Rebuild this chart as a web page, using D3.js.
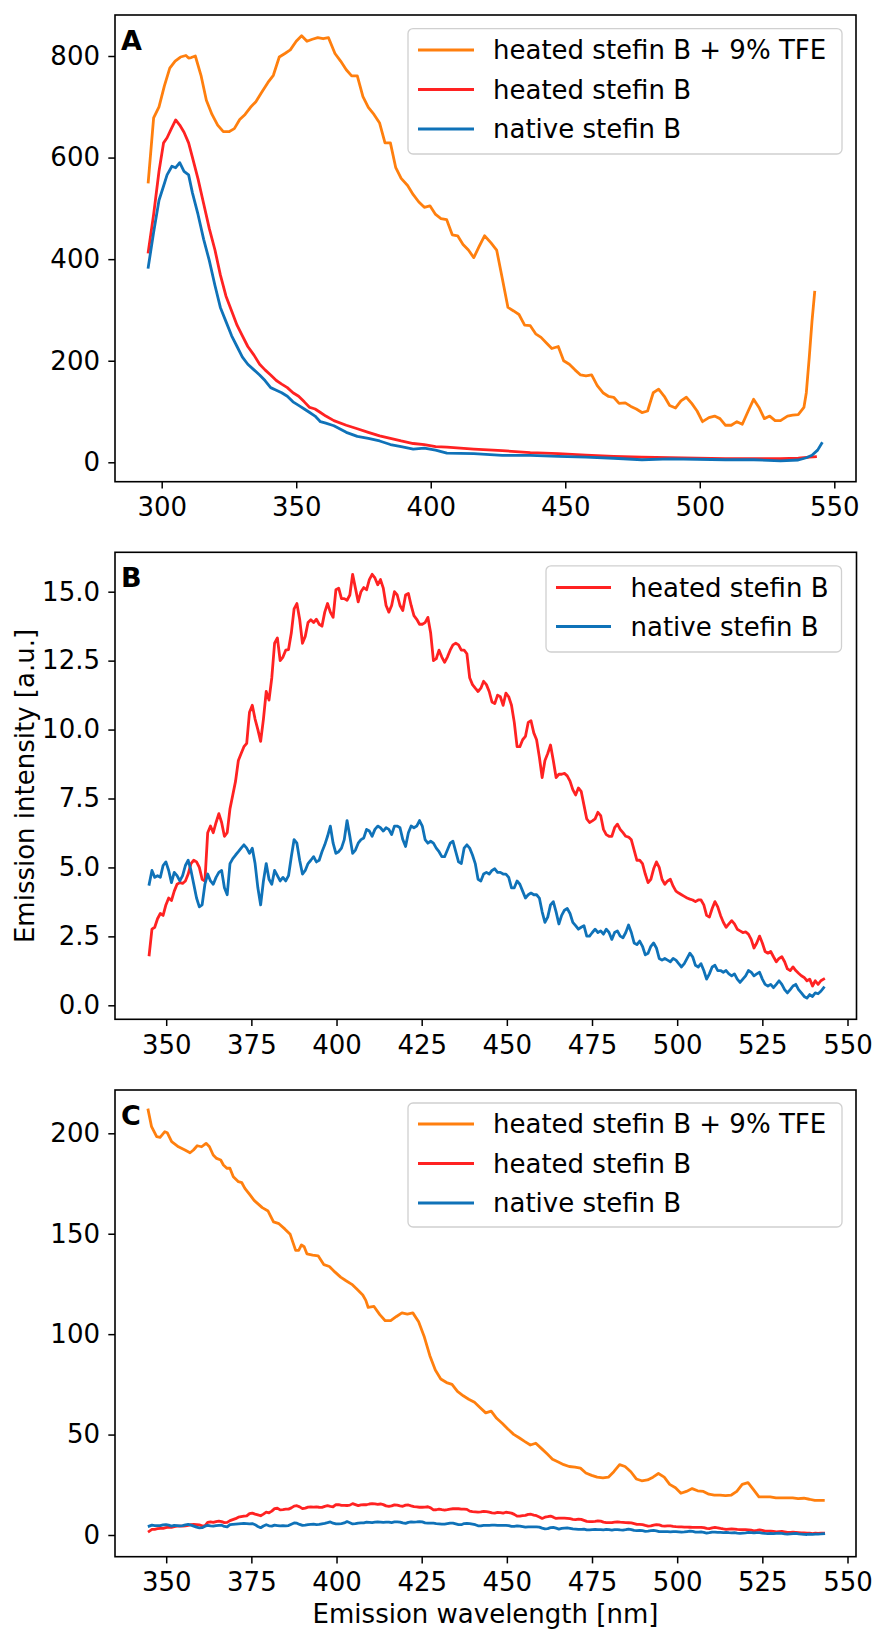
<!DOCTYPE html>
<html><head><meta charset="utf-8">
<script src="https://cdn.jsdelivr.net/npm/d3@7"></script>
<style>
body{margin:0;background:#fff;}
svg{display:block;font-family:"DejaVu Sans",sans-serif;}
</style></head>
<body>
<svg id="chart" width="875" height="1630"></svg>
<script>
// ---------- DATA ----------
const seriesNames = ["heated stefin B + 9% TFE", "heated stefin B", "native stefin B"];
const seriesColors = ["#ff7f0e", "#ff2222", "#0f72b8"];
const panelLabels = ["A", "B", "C"];

const xTicksA = [300, 350, 400, 450, 500, 550];
const yTicksA = [0, 200, 400, 600, 800];
const xTicksBC = [350, 375, 400, 425, 450, 475, 500, 525, 550];
const yTicksB = [0, 2.5, 5, 7.5, 10, 12.5, 15];
const yTicksC = [0, 50, 100, 150, 200];

// Panel A: heated + TFE
const aOrangeW = [295,297,299,301,303,305,306,307,309,310,311,312.5,314.6,316.6,318.7,320.8,322.9,325,327,329,331,333,335,337,339.5,341.5,343.7,345.8,347.8,350,352,354,356,358,360,362,364.4,366.5,368.6,370.6,372.7,374.8,376.8,378.9,381,383,385,387,389,391.4,393.5,395.5,397.6,399.7,401.8,403.8,405.9,408,410,412,414,416,418,420,422.4,424.5,426.6,428.7,430.8,432.8,434.9,437,439,441,443,445,447.4,449.4,451.5,453.6,455.7,457.7,459.8,461.9,464,466,468,470,472.3,474.4,476.4,478.5,480.6,482.7,484.7,486.8,488.8,491,493,495,497,499,501,503.4,505.5,507.5,509.5,511.7,513.8,515.8,518,520,522,524,526,528,530,532.6,534.5,536.6,538.7,539.6,540.7,541.7,542.7];
const aOrangeV = [552,678,700,741,776,790,794,798,801,796,797,800,762,713,685,664,651,651,657,675,685,699,710,727,748,762,798,805,812,829,840,829,833,836,834,836,805,790,773,761,761,720,699,685,668,629,629,580,559,545,527,513,502,505,488,480,478,448,446,429,418,403,425,446,432,418,362,305,298,291,270,269,253,246,235,224,228,200,193,182,172,170,172,151,137,130,128,116,117,110,105,98,101,137,144,130,112,107,121,128,116,101,80,88,91,86,73,73,80,75,101,124,108,86,91,82,82,91,93,94,108,137,207,277,335];

// Panel A: heated
const aRedW = [295,297,299,300.7,302,303.6,305.2,306.7,308.3,310,311.4,313.5,315.6,317.7,319.8,321.8,323.9,326,328,330,332,334.3,336.4,338.4,340.5,342.6,344.6,346.7,348.8,350.9,353,355,357,359,361,364,368.6,372.7,376.8,381,385,389,393.5,397.6,401.8,406,416,426.6,437,447.4,457.7,468,478.5,488.8,499,509.5,520,530,536.6,540.7,543];
const aRedV = [414,488,573,629,639,657,674,664,650,629,601,558,509,460,418,369,327,298,270,249,228,211,193,182,172,161,154,147,137,130,119,108,105,98,91,82,73,66,59,52,47,42,37,35,31,30,26,23,19,17,14,11.5,10,9.4,8,7,7,7,8,10,11];

// Panel A: native
const aBlueW = [295,297,299,300.7,302,303.8,305.2,306.7,308.3,310,311.4,313.5,315.6,317.7,319.8,321.8,323.9,326,328,330,332,334.3,336.4,338.4,340.5,342.6,344.6,346.7,348.8,350.9,353,355,357,359,361,364,368.6,372.7,376.8,381,385,389,393.5,397.6,401.8,406,416,426.6,437,447.4,457.7,468,478.5,488.8,499,509.5,520,530,536.6,539.6,541.7,543.8,545.3];
const aBlueV = [384,453,516,544,566,583,580,590,573,566,531,488,439,397,348,305,277,249,228,207,193,182,172,161,147,142,137,130,119,112,105,98,91,80,77,72,59,51,47,42,35,31,26,28,24,18,17,13.6,13.6,11.5,10,8,5,6.6,6,5,5,3,4.5,9,14,24,37];

// Panels B and C: heated and native (sampled 345–543 nm, evenly spaced)
const bcStart = 345, bcEnd = 543;
const bRedV = [1.83,2.76,2.83,3.14,3.33,3.26,3.64,3.89,3.8,4.14,4.39,4.45,4.42,4.51,4.76,5.14,5.26,5.2,5.0,4.57,4.5,6.26,6.5,6.26,6.63,6.95,6.63,6.13,6.26,7.13,7.63,8.13,8.88,9.13,9.38,9.5,10.63,10.88,10.38,10.0,9.57,10.38,11.38,11.07,11.88,13.13,13.32,12.5,12.63,12.88,12.9,13.5,14.38,14.57,14.0,13.13,13.38,13.88,13.98,13.88,14.0,13.82,13.75,14.26,14.57,14.26,14.07,15.07,15.13,14.75,14.75,14.69,14.88,15.63,15.13,14.63,15.0,15.15,15.07,15.44,15.63,15.5,15.25,15.44,15.13,14.5,14.26,14.5,15.0,14.88,14.5,14.32,14.88,14.94,14.5,14.13,14.0,13.82,13.82,13.88,14.07,13.5,12.5,12.57,12.88,12.63,12.44,12.63,12.88,13.07,13.13,13.07,12.88,12.88,12.75,11.88,11.63,11.5,11.38,11.5,11.75,11.63,11.38,11.0,10.94,11.25,11.19,10.88,11.32,11.19,10.88,10.26,9.38,9.38,9.63,9.75,10.26,10.32,9.88,9.63,9.0,8.26,8.88,9.13,9.44,8.88,8.26,8.38,8.38,8.41,8.32,8.13,7.82,7.63,7.88,7.76,7.26,6.76,6.63,6.69,6.76,7.0,6.88,6.38,6.19,6.13,6.13,6.44,6.57,6.38,6.26,6.13,6.1,6.0,5.63,5.26,5.26,5.14,4.76,4.45,4.57,4.95,5.2,5.0,4.57,4.39,4.51,4.57,4.32,4.14,4.07,4.01,3.95,3.89,3.85,3.82,3.76,3.82,3.82,3.64,3.26,3.2,3.51,3.76,3.57,3.26,3.01,2.83,2.95,3.07,2.95,2.76,2.7,2.64,2.66,2.58,2.39,2.08,2.26,2.51,2.26,1.95,1.89,1.95,1.76,1.58,1.7,1.76,1.58,1.32,1.26,1.39,1.26,1.16,1.07,1.01,0.89,0.95,0.7,0.89,0.76,0.89,0.95];
const bBlueV = [4.39,4.89,4.64,4.7,4.64,5.07,5.2,4.89,4.45,4.82,4.7,4.51,4.7,5.07,5.26,4.89,4.39,3.89,3.57,3.64,4.39,4.76,4.51,4.39,4.64,4.82,4.89,4.26,4.01,5.14,5.32,5.45,5.57,5.7,5.82,5.7,5.51,5.7,5.14,4.26,3.64,4.51,5.14,4.57,4.39,4.89,4.7,4.51,4.64,4.51,4.7,5.39,6.01,5.88,5.26,4.76,4.89,5.14,5.26,5.39,5.2,5.26,5.57,5.82,6.13,6.5,5.88,5.51,5.57,5.7,6.01,6.7,6.13,5.51,5.63,5.88,6.01,6.07,6.38,6.32,6.13,6.38,6.5,6.44,6.32,6.44,6.38,6.19,6.5,6.5,6.44,6.01,5.76,6.26,6.5,6.44,6.5,6.7,6.5,6.01,5.88,5.95,5.88,5.7,5.57,5.39,5.39,5.63,5.88,5.95,5.57,5.2,5.14,5.7,5.82,5.7,5.45,5.14,4.57,4.51,4.76,4.82,4.76,4.89,4.95,4.82,4.82,4.76,4.76,4.64,4.26,4.26,4.51,4.39,4.14,3.89,4.01,4.07,4.01,4.01,3.89,3.39,3.01,3.2,3.64,3.76,3.39,2.95,3.26,3.45,3.51,3.33,3.01,2.89,2.76,2.83,2.89,2.51,2.51,2.64,2.76,2.64,2.7,2.58,2.76,2.64,2.39,2.64,2.7,2.51,2.45,2.64,2.91,2.64,2.26,2.2,2.33,2.14,1.83,1.89,2.14,2.26,2.08,1.7,1.64,1.7,1.64,1.58,1.7,1.64,1.51,1.39,1.51,1.7,1.89,1.76,1.45,1.39,1.51,1.26,0.95,1.14,1.39,1.45,1.26,1.26,1.2,1.26,1.14,1.07,1.14,0.95,0.83,0.95,1.07,1.26,1.2,1.07,1.14,1.2,0.95,0.76,0.7,0.76,0.64,0.76,0.89,0.76,0.57,0.45,0.57,0.7,0.76,0.57,0.45,0.32,0.26,0.39,0.32,0.45,0.42,0.51,0.64];

// Panel C: heated + TFE
const cOrangeW = [344.7,345.7,347.2,348.2,349.6,350.3,351.6,353.6,355.5,357,358,359.1,360.4,361.7,362.7,363.8,364.8,366,366.8,367.8,368.7,369.7,371.2,372.2,373.1,374.6,375.8,378.2,379.9,381.5,383.1,384.8,386.4,388,388.9,389.7,390.5,391.3,393,394.6,396.3,397.9,399.5,401.2,402.8,404.5,406.1,407.7,408.6,409.3,411,412.7,414.3,415.9,417.6,419.2,420.8,422.4,424.1,425.7,427.4,429,430.6,432.3,433.9,435.5,437.2,438.8,440.5,442.1,443.8,445.4,447,448.7,450.3,452,453.6,455.2,456.9,458.5,460.2,461.8,463.4,465.1,466.7,468.3,470,471.6,473.2,474.9,476.5,478.2,479.8,481.4,483.1,484.7,486.4,488,489.6,491.3,492.9,494.5,496.2,497.8,499.5,501.1,502.7,504.4,506,507.7,509.3,510.9,512.6,514.2,515.9,517.5,519.1,520.8,522.4,524,525.7,527.3,529,530.6,532.2,533.9,535.5,537.2,538.8,540.4,542,542.9];
const cOrangeV = [211.6,203.3,198.3,198,200.8,200.3,195.8,193.3,191.7,190.3,191.7,193.8,193.3,195,193.3,189.2,187.5,186.7,184.2,182.6,182.6,178.4,175.9,175.4,172.6,169.3,166.6,163,161.3,155.9,155,152.4,149.7,141.7,141.7,144.4,143.5,140,139.4,139,134.6,133.7,131,128.4,126.6,124.8,122.2,119.5,116.8,113.3,113.8,109.7,106.7,106.7,108.8,110.6,110,110.6,106.2,99,89.3,82.1,77.7,75.9,75,71.5,69.3,67.6,66.1,63.5,60.8,61.7,58.1,55.5,52.8,50.1,48.4,46.6,44.8,45.7,43,40.4,37.7,36.3,35,34.1,33.8,33.3,30.9,29.7,28.8,28.4,28.8,31.5,35,34.1,31.5,27.9,27,27.4,28.8,30.6,28.8,25.2,23.5,20.8,21.7,23.1,22,21.7,20.3,19.9,19.9,19.6,19.9,21.7,25.2,26.1,22.6,19,19,19,18.5,18.5,18.5,18.5,18.1,18.3,17.8,17.2,17.2,17.2];

// ---------- BUILD ----------
const bcW = bRedV.map((_, i) => bcStart + i * (bcEnd - bcStart) / (bRedV.length - 1));
const zip = (w, v) => w.map((x, i) => ({w: x, v: v[i]}));

const FONT = 26;
const LW = 2.8;
const panels = [
  {label: panelLabels[0], frame: {l: 115, r: 856, t: 15, b: 481.7},
   xd: [300, 550], xr: [161.7, 834.3], yd: [0, 800], yr: [462.3, 56],
   xt: xTicksA, yt: yTicksA, yfmt: d3.format("d"),
   series: [zip(aOrangeW, aOrangeV), zip(aRedW, aRedV), zip(aBlueW, aBlueV)], si: [0, 1, 2],
   legend: {x: 408, y: 28.6, w: 434, h: 125.4, rows: [50, 89.5, 129], lx: 418, lw: 56, tx: 493}},
  {label: panelLabels[1], frame: {l: 115, r: 856.5, t: 552.3, b: 1019.3},
   xd: [350, 550], xr: [166.2, 847.5], yd: [0, 15], yr: [1005.3, 591.7],
   xt: xTicksBC, yt: yTicksB, yfmt: d3.format(".1f"),
   series: [zip(bcW, bRedV), zip(bcW, bBlueV)], si: [1, 2],
   legend: {x: 546, y: 565.8, w: 295.5, h: 86.2, rows: [587.5, 626.5], lx: 556, lw: 55, tx: 630.5}},
  {label: panelLabels[2], frame: {l: 115, r: 856, t: 1090, b: 1556.7},
   xd: [350, 550], xr: [166.2, 847.5], yd: [0, 200], yr: [1535, 1133.3],
   xt: xTicksBC, yt: yTicksC, yfmt: d3.format("d"),
   series: [zip(cOrangeW, cOrangeV), zip(bcW, bRedV), zip(bcW, bBlueV)], si: [0, 1, 2],
   legend: {x: 408, y: 1103, w: 434, h: 124, rows: [1124, 1163.5, 1203], lx: 418, lw: 56, tx: 493}}
];

const svg = d3.select("#chart");

panels.forEach((p, pi) => {
  const g = svg.append("g");
  const x = d3.scaleLinear().domain(p.xd).range(p.xr);
  const y = d3.scaleLinear().domain(p.yd).range(p.yr);
  const f = p.frame;

  const clipId = "clip" + pi;
  svg.append("clipPath").attr("id", clipId).append("rect")
    .attr("x", f.l).attr("y", f.t).attr("width", f.r - f.l).attr("height", f.b - f.t);

  const line = d3.line().x(d => x(d.w)).y(d => y(d.v)).curve(d3.curveLinear);
  p.series.forEach((s, k) => {
    g.append("path").datum(s)
      .attr("clip-path", `url(#${clipId})`)
      .attr("fill", "none").attr("stroke", seriesColors[p.si[k]])
      .attr("stroke-width", LW).attr("stroke-linejoin", "round").attr("stroke-linecap", "square")
      .attr("d", line);
  });

  // axes
  const xAxis = d3.axisBottom(x).tickValues(p.xt).tickFormat(d3.format("d")).tickSize(6.7).tickPadding(9.3);
  const yAxis = d3.axisLeft(y).tickValues(p.yt).tickFormat(p.yfmt).tickSize(6.7).tickPadding(8.3);
  const gx = g.append("g").attr("transform", `translate(0,${f.b})`).call(xAxis);
  const gy = g.append("g").attr("transform", `translate(${f.l},0)`).call(yAxis);
  [gx, gy].forEach(ax => {
    ax.select(".domain").remove();
    ax.selectAll(".tick line").attr("stroke", "#000").attr("stroke-width", 1.5);
    ax.selectAll(".tick text").attr("fill", "#000").style("font-size", FONT + "px")
      .style("font-family", "'DejaVu Sans', sans-serif");
  });

  // frame
  g.append("rect").attr("x", f.l).attr("y", f.t).attr("width", f.r - f.l).attr("height", f.b - f.t)
    .attr("fill", "none").attr("stroke", "#000").attr("stroke-width", 1.6);

  // panel letter
  g.append("text").attr("x", 121).attr("y", f.t + 35).text(p.label)
    .style("font-size", "27px").style("font-weight", "bold").attr("fill", "#000");

  // legend
  const L = p.legend;
  g.append("rect").attr("x", L.x).attr("y", L.y).attr("width", L.w).attr("height", L.h)
    .attr("rx", 5).attr("ry", 5).attr("fill", "#fff").attr("fill-opacity", 0.8)
    .attr("stroke", "#d0d0d0").attr("stroke-width", 1.3);
  p.si.forEach((s, k) => {
    const ry = L.rows[k];
    g.append("line").attr("x1", L.lx).attr("x2", L.lx + L.lw).attr("y1", ry).attr("y2", ry)
      .attr("stroke", seriesColors[s]).attr("stroke-width", LW);
    g.append("text").attr("x", L.tx).attr("y", ry + 9).text(seriesNames[s])
      .style("font-size", FONT + "px").attr("fill", "#000");
  });
});

// axis titles
svg.append("text").attr("transform", "translate(34,786) rotate(-90)").attr("text-anchor", "middle")
  .style("font-size", FONT + "px").attr("fill", "#000").text("Emission intensity [a.u.]");
svg.append("text").attr("x", 485.5).attr("y", 1623).attr("text-anchor", "middle")
  .style("font-size", FONT + "px").attr("fill", "#000").text("Emission wavelength [nm]");
</script>
</body></html>
